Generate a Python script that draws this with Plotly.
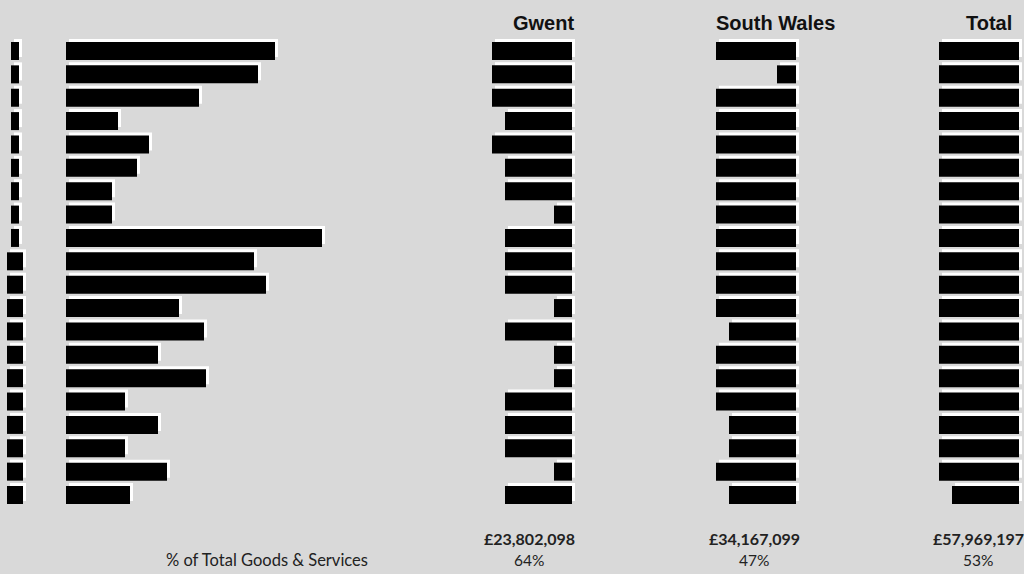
import plotly.graph_objects as go

# ---- data (widths of the redacted cells) ----
rows = list(range(20))
col_a = [8, 8, 8, 8, 8, 8, 8, 8, 8, 16, 16, 16, 16, 16, 16, 16, 16, 16, 16, 16]
col_b = [209, 192, 133, 52, 83, 71, 46, 46, 256, 188, 200, 113, 138, 92, 140, 59, 92, 59, 101, 64]
gwent = [80, 80, 80, 67, 80, 67, 67, 18, 67, 67, 67, 18, 67, 18, 18, 67, 67, 67, 18, 67]
south_wales = [80, 19, 80, 80, 80, 80, 80, 80, 80, 80, 80, 80, 67, 80, 80, 80, 67, 67, 80, 67]
total = [80, 80, 80, 80, 80, 80, 80, 80, 80, 80, 80, 80, 80, 80, 80, 80, 80, 80, 80, 67]

headers = ["Gwent", "South Wales", "Total"]
totals = ["£23,802,098", "£34,167,099", "£57,969,197"]
pcts = ["64%", "47%", "53%"]
row_label = "% of Total Goods & Services"

W, H = 1024, 574
BG = "#d9d9d9"
BAR_T = 0.77
SH_DY = -0.128   # shadow shift up (in row units)
SH_DX = 3        # shadow shift right (px = axis units)

fig = go.Figure()


def add_col(vals, axis, base_fn, reverse=False):
    # white shadow behind
    sh_base = [base_fn(v) + (-SH_DX if reverse else SH_DX) for v in vals]
    fig.add_trace(go.Bar(y=rows, x=vals, base=sh_base, orientation="h",
                         width=BAR_T, offset=-BAR_T / 2 + SH_DY,
                         marker=dict(color="white", line=dict(width=0)),
                         xaxis=axis, yaxis="y", hoverinfo="skip", showlegend=False))
    fig.add_trace(go.Bar(y=rows, x=vals, base=[base_fn(v) for v in vals], orientation="h",
                         width=BAR_T, offset=-BAR_T / 2,
                         marker=dict(color="black", line=dict(width=0)),
                         xaxis=axis, yaxis="y", showlegend=False))


add_col(col_a, "x", lambda v: -v / 2)
add_col(col_b, "x2", lambda v: 0)
add_col(gwent, "x3", lambda v: 0, reverse=True)
add_col(south_wales, "x4", lambda v: 0, reverse=True)
add_col(total, "x5", lambda v: 0, reverse=True)

hid = dict(visible=False, showgrid=False, zeroline=False, fixedrange=True)

def px_dom(a, b):
    return [a / W, b / W]

fig.update_layout(
    width=W, height=H,
    margin=dict(l=0, r=0, t=0, b=0),
    paper_bgcolor=BG, plot_bgcolor="rgba(0,0,0,0)",
    barmode="overlay",
    xaxis=dict(domain=px_dom(0, 45), range=[-15, 30], **hid),
    xaxis2=dict(domain=px_dom(50, 400), range=[-16, 334], anchor="y", **hid),
    xaxis3=dict(domain=px_dom(450, 600), range=[122, -28], anchor="y", **hid),
    xaxis4=dict(domain=px_dom(680, 820), range=[116, -24], anchor="y", **hid),
    xaxis5=dict(domain=px_dom(900, 1024), range=[119, -5], anchor="y", **hid),
    yaxis=dict(domain=[0, 1], range=[22.38, -2.182], **hid),
)

ann = []
def px(x, y):
    return x / W, 1 - y / H

hdr_pos = [(576, "right"), (775, "center"), (989, "center")]
for (x, al), t in zip(hdr_pos, headers):
    xx, yy = px(x, 23)
    ann.append(dict(text="<b>" + t + "</b>", x=xx, y=yy, xref="paper", yref="paper",
                    xanchor=al, yanchor="middle", showarrow=False,
                    font=dict(family="Liberation Sans, Arial", size=20, color="#111")))

for x, t, p in zip([529, 754, 978], totals, pcts):
    xx, yy = px(x, 538)
    ann.append(dict(text="<b>" + t + "</b>", x=xx, y=yy, xref="paper", yref="paper",
                    xanchor="center", yanchor="middle", showarrow=False,
                    font=dict(family="Lato", size=16, color="#222")))
    xx, yy = px(x, 560)
    ann.append(dict(text=p, x=xx, y=yy, xref="paper", yref="paper",
                    xanchor="center", yanchor="middle", showarrow=False,
                    font=dict(family="Lato", size=15.5, color="#222")))

xx, yy = px(267, 560)
ann.append(dict(text=row_label, x=xx, y=yy, xref="paper", yref="paper",
                xanchor="center", yanchor="middle", showarrow=False,
                font=dict(family="Lato", size=16.5, color="#222")))

fig.update_layout(annotations=ann)
fig.write_html("out.html")
